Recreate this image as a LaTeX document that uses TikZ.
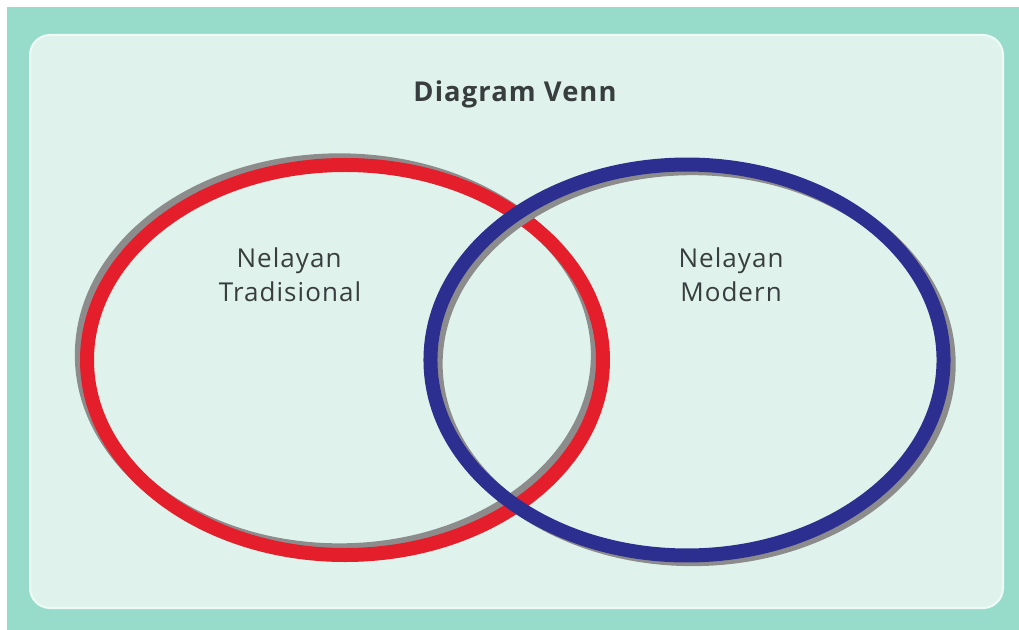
\documentclass[tikz,border=0pt]{standalone}
\usepackage{fontspec}
\setmainfont{Open Sans}
\newfontfamily\labelfont[LetterSpace=4]{Open Sans}
\definecolor{bgteal}{HTML}{97DCCB}
\definecolor{panelfill}{HTML}{DFF3EC}
\definecolor{panelrim}{HTML}{EEFAF6}
\definecolor{ringred}{HTML}{E41E2B}
\definecolor{ringblue}{HTML}{2D2F90}
\definecolor{ringshadow}{HTML}{8C8C8C}
\definecolor{inktext}{HTML}{383D3D}
\tikzset{
  ringline/.style={line width=10.5pt},
  shadowline/.style={line width=10pt, draw=ringshadow},
  label/.style={inner sep=0pt, anchor=base, text=inktext, font=\labelfont\fontsize{19.5}{22}\selectfont},
  titletext/.style={inner sep=0pt, anchor=base, text=inktext, font=\labelfont\fontsize{20.5}{24}\selectfont\bfseries},
}
\begin{document}
\begin{tikzpicture}[x=0.75pt,y=-0.75pt]
\useasboundingbox (0,0) rectangle (1019,630);
\fill[white] (0,0) rectangle (1019,630);
\fill[bgteal] (7,7) rectangle (1019,630);
\draw[draw=panelrim, line width=1.5pt, fill=panelfill, rounded corners=15pt] (30,35) rectangle (1003,608);
\node[titletext] (title) at (515,102) {Diagram Venn};
% red ring
\draw[shadowline] (339.5,355) ellipse [x radius=193.5pt, y radius=146.25pt];
\draw[ringline, draw=ringred] (345,360) ellipse [x radius=193.5pt, y radius=146.25pt];
% blue ring
\draw[shadowline] (692.5,364) ellipse [x radius=192.4pt, y radius=146.6pt];
\draw[ringline, draw=ringblue] (687,360) ellipse [x radius=192.4pt, y radius=146.6pt];
\node[label] (tradA) at (289,268) {Nelayan};
\node[label] (tradB) at (290,302) {Tradisional};
\node[label] (modA) at (731,268) {Nelayan};
\node[label] (modB) at (731,302) {Modern};
\end{tikzpicture}
\end{document}
